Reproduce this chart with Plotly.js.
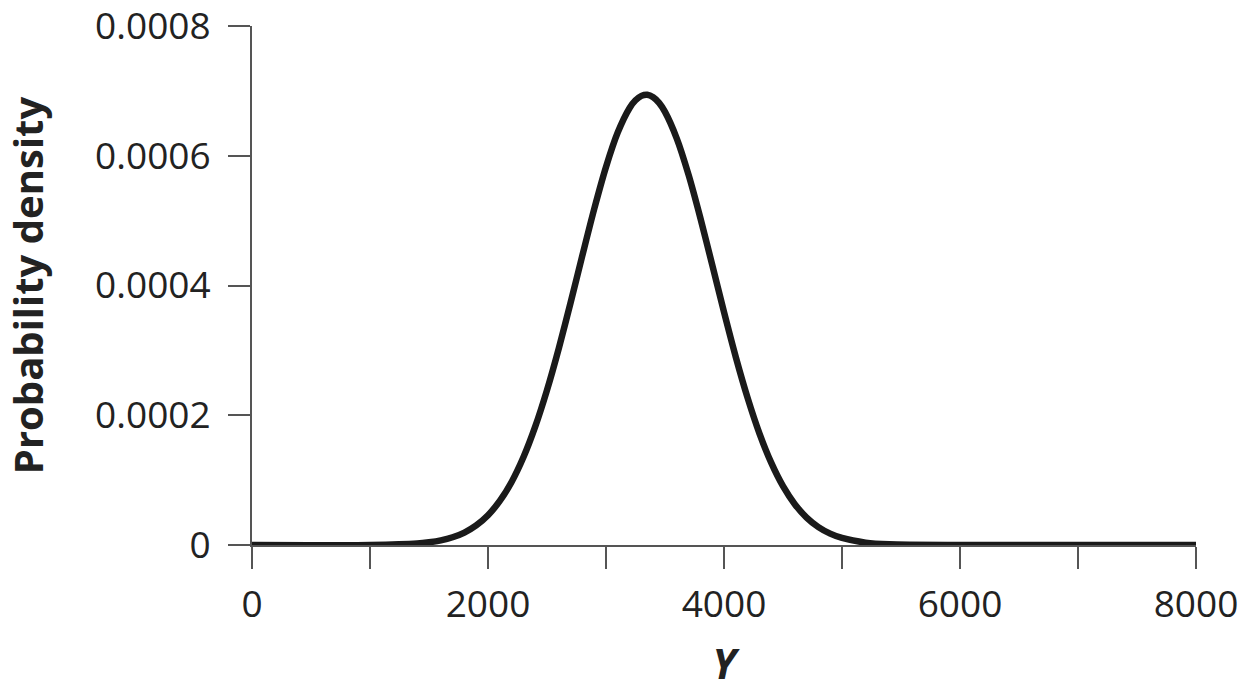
<!DOCTYPE html>
<html>
<head>
<meta charset="utf-8">
<script src="https://cdn.plot.ly/plotly-3.0.1.min.js"></script>
<style>html,body{margin:0;padding:0;background:#fff;}#chart{width:1245px;height:692px;}</style>
</head>
<body>
<div id="chart"></div>
<script>
// Values
const yValues = [0, 1000, 1400, 1500, 1600, 1700, 1800, 1900, 2000, 2100, 2200, 2300, 2400, 2500, 2600, 2700, 2800, 2900, 3000, 3100, 3200, 3250, 3300, 3350, 3400, 3450, 3500, 3600, 3700, 3800, 3900, 4000, 4100, 4200, 4300, 4400, 4500, 4600, 4700, 4800, 4900, 5000, 5200, 5400, 6000, 8000];
const density = [0, 0.0000001, 0.0000023, 0.0000042, 0.0000071, 0.0000119, 0.0000192, 0.0000302, 0.0000459, 0.0000679, 0.0000972, 0.0001352, 0.0001824, 0.0002388, 0.0003032, 0.0003736, 0.0004465, 0.0005179, 0.0005827, 0.0006361, 0.0006737, 0.0006855, 0.0006923, 0.0006940, 0.0006902, 0.0006815, 0.0006676, 0.0006265, 0.0005705, 0.0005039, 0.0004319, 0.0003591, 0.0002897, 0.0002268, 0.0001722, 0.0001269, 0.0000907, 0.0000629, 0.0000423, 0.0000276, 0.0000175, 0.0000108, 0.0000037, 0.0000011, 0, 0];
const xTickVals = [0, 1000, 2000, 3000, 4000, 5000, 6000, 7000, 8000];
const xTickText = ['0', '', '2000', '', '4000', '', '6000', '', '8000'];
const yTickVals = [0, 0.0002, 0.0004, 0.0006, 0.0008];
const yTickText = ['0', '0.0002', '0.0004', '0.0006', '0.0008'];

const trace = {
  x: yValues,
  y: density,
  type: 'scatter',
  mode: 'lines',
  line: {color: '#1a1a1a', width: 6.5, shape: 'spline', smoothing: 0.8},
  cliponaxis: false,
  hoverinfo: 'skip'
};

const layout = {
  width: 1245,
  height: 692,
  margin: {l: 252, r: 49, t: 26, b: 147},
  paper_bgcolor: '#ffffff',
  plot_bgcolor: '#ffffff',
  showlegend: false,
  font: {family: '"Open Sans", "DejaVu Sans", sans-serif', color: '#222222', size: 37},
  xaxis: {
    range: [0, 8000],
    showgrid: false,
    zeroline: false,
    showline: true,
    linecolor: '#555555',
    linewidth: 2,
    ticks: 'outside',
    ticklen: 22,
    tickwidth: 2,
    tickcolor: '#555555',
    tickmode: 'array',
    tickvals: xTickVals,
    ticktext: xTickText,
    tickfont: {size: 37, color: '#222222'},
    ticklabelstandoff: 4,
    ticklabeloverflow: 'allow',
    title: {text: '<b><i>Y</i></b>', font: {size: 42, color: '#222222'}, standoff: 22}
  },
  yaxis: {
    range: [0, 0.0008],
    showgrid: false,
    zeroline: false,
    showline: true,
    linecolor: '#555555',
    linewidth: 2,
    ticks: 'outside',
    ticklen: 22,
    tickwidth: 2,
    tickcolor: '#555555',
    tickmode: 'array',
    tickvals: yTickVals,
    ticktext: yTickText,
    tickfont: {size: 37, color: '#222222'},
    ticklabelstandoff: 10,
    ticklabeloverflow: 'allow',
    title: {text: '<b>Probability density</b>', font: {size: 40, color: '#222222'}, standoff: 42}
  }
};

Plotly.newPlot('chart', [trace], layout, {displayModeBar: false, staticPlot: true});
</script>
</body>
</html>
